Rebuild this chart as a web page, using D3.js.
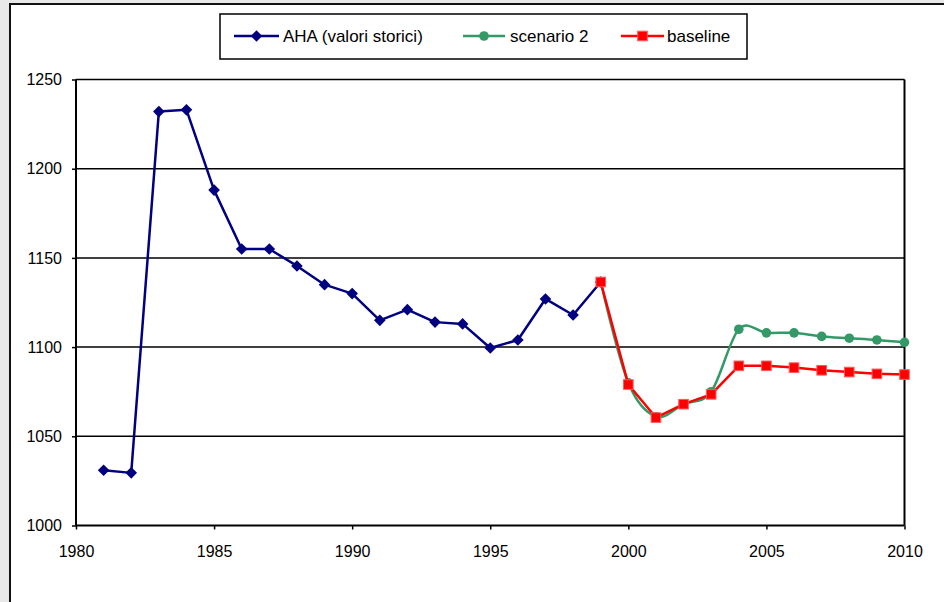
<!DOCTYPE html>
<html>
<head>
<meta charset="utf-8">
<script src="https://cdn.jsdelivr.net/npm/d3@7"></script>
<style>
  html, body { margin: 0; padding: 0; background: #e8e8e8; }
  svg { display: block; }
  text { font-family: "Liberation Sans", Arial, sans-serif; fill: #000; }
</style>
</head>
<body>
<svg id="chart" width="944" height="602"></svg>
<script>
// ---- data ----
const ahaYears = [1981,1982,1983,1984,1985,1986,1987,1988,1989,1990,1991,1992,1993,1994,1995,1996,1997,1998,1999];
const ahaValues = [1031,1029.5,1232,1233,1188,1155,1155,1145.5,1135,1130,1115,1121,1114,1113,1099.5,1104,1127,1118,1136.5];
const scenYears = [1999,2000,2001,2002,2003,2004,2005,2006,2007,2008,2009,2010];
const scenario2Values = [1136.5,1080,1061,1068,1075,1110,1108,1108,1106,1105,1104,1102.7];
const baselineValues = [1136.5,1079,1060.5,1068,1073.5,1089.5,1089.5,1088.5,1087,1086,1085,1084.6];
const yTicks = [1000,1050,1100,1150,1200,1250];
const xTicks = [1980,1985,1990,1995,2000,2005,2010];
const seriesNames = ["AHA (valori storici)", "scenario 2", "baseline"];
const colors = ["#000080", "#339966", "#ff0000"];

const svg = d3.select("#chart");

// outer chart area (clipped by viewport)
svg.append("rect").attr("x", 10).attr("y", 4).attr("width", 960).attr("height", 640)
  .attr("fill", "#fff").attr("stroke", "#111").attr("stroke-width", 2);

const x = d3.scaleLinear().domain([1980, 2010]).range([76, 904.5]);
const y = d3.scaleLinear().domain([1000, 1250]).range([525.5, 79.5]);

// gridlines
svg.append("g").selectAll("line").data(yTicks.slice(1)).join("line")
  .attr("x1", x(1980)).attr("x2", x(2010))
  .attr("y1", d => y(d)).attr("y2", d => y(d))
  .attr("stroke", "#000").attr("stroke-width", 1.5);

// plot border (right side)
svg.append("line").attr("x1", x(2010)).attr("x2", x(2010)).attr("y1", y(1250)).attr("y2", y(1000))
  .attr("stroke", "#000").attr("stroke-width", 2);

// axes
const yAxis = svg.append("g").attr("transform", `translate(${x(1980)},0)`)
  .call(d3.axisLeft(y).tickValues(yTicks).tickSize(4).tickPadding(10).tickFormat(d3.format("d")));
const xAxis = svg.append("g").attr("transform", `translate(0,${y(1000)})`)
  .call(d3.axisBottom(x).tickValues(xTicks).tickSize(4).tickPadding(16).tickFormat(d3.format("d")));
[yAxis, xAxis].forEach(g => {
  g.select(".domain").attr("stroke", "#000").attr("stroke-width", 2);
  g.selectAll(".tick line").attr("stroke", "#000").attr("stroke-width", 1.5);
  g.selectAll("text").attr("font-size", 16).attr("font-family", "'Liberation Sans', Arial, sans-serif").attr("fill", "#000");
});
xAxis.select(".domain").attr("d", `M${x(1980)},0H${x(2010)}`);
yAxis.select(".domain").attr("d", `M0,${y(1000)}V${y(1250)}`);

// marker shapes
const diamond = "M0,-5.8L5.8,0L0,5.8L-5.8,0Z";
function drawMarker(g, type, cx, cy, color) {
  if (type === 0) {
    g.append("path").attr("d", diamond).attr("transform", `translate(${cx},${cy})`).attr("fill", color);
  } else if (type === 1) {
    g.append("circle").attr("cx", cx).attr("cy", cy).attr("r", 4.8).attr("fill", color);
  } else {
    g.append("rect").attr("x", cx - 4.8).attr("y", cy - 4.8).attr("width", 9.6).attr("height", 9.6)
      .attr("fill", color).attr("stroke", "#ff5a5a").attr("stroke-width", 1);
  }
}

// series
const seriesData = [
  { years: ahaYears, values: ahaValues, curve: d3.curveLinear },
  { years: scenYears, values: scenario2Values, curve: d3.curveCatmullRom.alpha(0) },
  { years: scenYears, values: baselineValues, curve: d3.curveLinear }
];
seriesData.forEach((s, i) => {
  const pts = s.years.map((yr, k) => [x(yr), y(s.values[k])]);
  const g = svg.append("g");
  g.append("path").attr("d", d3.line().curve(s.curve)(pts))
    .attr("fill", "none").attr("stroke", colors[i]).attr("stroke-width", 2.5).attr("stroke-linejoin", "round");
  pts.forEach(p => drawMarker(g, i, p[0], p[1], colors[i]));
});

// legend
const lg = svg.append("g");
lg.append("rect").attr("x", 220).attr("y", 14).attr("width", 527).attr("height", 45)
  .attr("fill", "#fff").attr("stroke", "#000").attr("stroke-width", 1.5);
const legendItems = [
  { x1: 234, x2: 279, tx: 283 },
  { x1: 463, x2: 505, tx: 510 },
  { x1: 621, x2: 664, tx: 667 }
];
legendItems.forEach((it, i) => {
  const cy = 36;
  lg.append("line").attr("x1", it.x1).attr("x2", it.x2).attr("y1", cy).attr("y2", cy)
    .attr("stroke", colors[i]).attr("stroke-width", 2.5);
  drawMarker(lg, i, (it.x1 + it.x2) / 2, cy, colors[i]);
  lg.append("text").attr("x", it.tx).attr("y", cy).attr("dy", "0.35em")
    .attr("font-size", 17).text(seriesNames[i]);
});
</script>
</body>
</html>
